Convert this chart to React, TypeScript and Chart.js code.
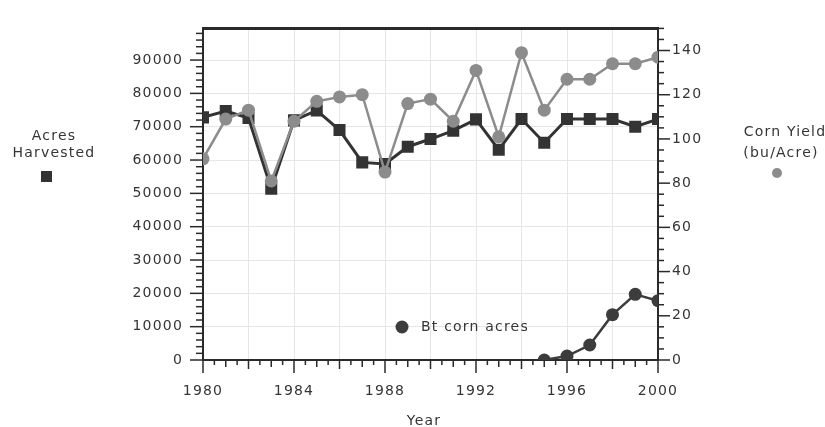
import React, { useEffect, useRef } from "react";
import { Chart, registerables } from "chart.js";

Chart.register(...registerables);

const years = [1980, 1981, 1982, 1983, 1984, 1985, 1986, 1987, 1988, 1989, 1990, 1991, 1992, 1993, 1994, 1995, 1996, 1997, 1998, 1999, 2000];
const acresHarvested = [72800, 74700, 72600, 51400, 71900, 74900, 69000, 59300, 58800, 64000, 66300, 68800, 72200, 63100, 72300, 65200, 72300, 72300, 72300, 70000, 72300];
const cornYield = [91, 109, 113, 81, 108, 117, 119, 120, 85, 116, 118, 108, 131, 101, 139, 113, 127, 127, 134, 134, 137];
const btYears = [1995, 1996, 1997, 1998, 1999, 2000];
const btCornAcres = [0, 1200, 4500, 13600, 19700, 17800];
const xTickValues = [1980, 1982, 1984, 1986, 1988, 1990, 1992, 1994, 1996, 1998, 2000];
const leftTickValues = [0, 10000, 20000, 30000, 40000, 50000, 60000, 70000, 80000, 90000];
const rightTickValues = [0, 20, 40, 60, 80, 100, 120, 140];

const FONT = '"DejaVu Sans", Arial, Helvetica, sans-serif';
const TEXT = "#353535";
const AXIS = "#2a2a2a";
const SPACING = "1.2px";

const decor = {
  id: "decor",
  beforeLayout(chart: any) {
    chart.ctx.letterSpacing = SPACING;
  },
  beforeDraw(chart: any) {
    chart.ctx.letterSpacing = SPACING;
  },
  beforeDatasetsDraw(chart: any) {
    const { ctx, chartArea: a, scales } = chart;
    const x = scales.x, y = scales.y, y1 = scales.y1;
    const line = (x1: number, y1p: number, x2: number, y2: number) => {
      ctx.beginPath();
      ctx.moveTo(x1, y1p);
      ctx.lineTo(x2, y2);
      ctx.stroke();
    };
    ctx.save();
    ctx.strokeStyle = AXIS;
    ctx.lineWidth = 1.5;
    for (let v = 1980; v <= 2000.001; v += 0.5) {
      const px = x.getPixelForValue(v);
      const len = v % 4 === 0 ? 13 : v % 2 === 0 ? 9 : v % 1 === 0 ? 7 : 5;
      line(px, a.bottom, px, a.bottom + len);
    }
    for (let v = 0; v <= y.max; v += 2000) {
      const py = y.getPixelForValue(v);
      const len = v % 10000 === 0 ? 13 : 7;
      line(a.left - len, py, a.left, py);
    }
    for (let v = 0; v <= y1.max; v += 5) {
      const py = y1.getPixelForValue(v);
      const len = v % 20 === 0 ? 12 : 6;
      line(a.right, py, a.right + len, py);
    }
    ctx.lineWidth = 2;
    line(a.left, a.top, a.left, a.bottom + 1);
    line(a.left - 1, a.bottom, a.right + 1, a.bottom);
    line(a.right, a.top, a.right, a.bottom + 1);
    ctx.lineWidth = 3;
    line(a.left - 1, a.top, a.right + 1, a.top);
    ctx.restore();
  },
  afterDraw(chart: any) {
    const { ctx } = chart;
    ctx.save();
    ctx.letterSpacing = SPACING;
    ctx.font = `14px ${FONT}`;
    ctx.fillStyle = TEXT;
    ctx.textAlign = "center";
    ctx.textBaseline = "middle";
    ctx.fillText("Acres", 54, 136);
    ctx.fillText("Harvested", 54, 153);
    ctx.fillText("Corn Yield", 785, 132);
    ctx.fillText("(bu/Acre)", 781, 153);
    ctx.textBaseline = "top";
    ctx.fillText("Year", 424, 414);
    ctx.textAlign = "left";
    ctx.textBaseline = "middle";
    ctx.fillText("Bt corn acres", 421, 327);
    ctx.fillStyle = "#333333";
    ctx.fillRect(41, 171, 11, 11);
    ctx.fillStyle = "#8c8c8c";
    ctx.beginPath();
    ctx.arc(777, 173, 5, 0, Math.PI * 2);
    ctx.fill();
    ctx.fillStyle = "#3c3c3c";
    ctx.beginPath();
    ctx.arc(402, 327, 6.5, 0, Math.PI * 2);
    ctx.fill();
    ctx.restore();
  },
};

export default function App() {
  const ref = useRef<HTMLCanvasElement | null>(null);
  useEffect(() => {
    document.body.style.margin = "0";
    const canvas = ref.current!;
    const chart = new Chart(canvas, {
      type: "line",
      data: {
        datasets: [
          {
            label: "Corn Yield (bu/Acre)",
            data: years.map((yr, i) => ({ x: yr, y: cornYield[i] })),
            yAxisID: "y1",
            borderColor: "#8c8c8c",
            backgroundColor: "#8c8c8c",
            borderWidth: 2.5,
            pointStyle: "circle",
            pointRadius: 6.5,
            pointBorderWidth: 0,
            order: 0,
          },
          {
            label: "Acres Harvested",
            data: years.map((yr, i) => ({ x: yr, y: acresHarvested[i] })),
            yAxisID: "y",
            borderColor: "#333333",
            backgroundColor: "#333333",
            borderWidth: 3,
            pointStyle: "rect",
            pointRadius: 8.5,
            pointBorderWidth: 0,
            order: 1,
          },
          {
            label: "Bt corn acres",
            data: btYears.map((yr, i) => ({ x: yr, y: btCornAcres[i] })),
            yAxisID: "y",
            borderColor: "#3c3c3c",
            backgroundColor: "#3c3c3c",
            borderWidth: 2.5,
            pointStyle: "circle",
            pointRadius: 6.5,
            pointBorderWidth: 0,
            order: 2,
          },
        ],
      },
      options: {
        animation: false,
        responsive: false,
        devicePixelRatio: 1,
        layout: { padding: { left: 118, right: 107, top: 11, bottom: 27 } },
        plugins: { legend: { display: false }, tooltip: { enabled: false } },
        scales: {
          x: {
            type: "linear",
            min: 1980,
            max: 2000,
            afterBuildTicks: (axis: any) => {
              axis.ticks = xTickValues.map((v) => ({ value: v }));
            },
            afterFit: (axis: any) => {
              axis.height = 40;
            },
            ticks: {
              autoSkip: false,
              maxRotation: 0,
              padding: 23,
              color: TEXT,
              font: { family: FONT, size: 14 },
              callback: (v: any) => (Number(v) % 4 === 0 ? String(v) : ""),
            },
            grid: { color: "#e6e6e6", lineWidth: 1, drawTicks: false },
            border: { display: false },
          },
          y: {
            type: "linear",
            position: "left",
            min: 0,
            max: 99500,
            afterBuildTicks: (axis: any) => {
              axis.ticks = leftTickValues.map((v) => ({ value: v }));
            },
            afterFit: (axis: any) => {
              axis.width = 85;
            },
            ticks: {
              padding: 20,
              color: TEXT,
              font: { family: FONT, size: 14 },
              callback: (v: any) => String(v),
            },
            grid: { color: "#e6e6e6", lineWidth: 1, drawTicks: false },
            border: { display: false },
          },
          y1: {
            type: "linear",
            position: "right",
            min: 0,
            max: 150,
            afterBuildTicks: (axis: any) => {
              axis.ticks = rightTickValues.map((v) => ({ value: v }));
            },
            afterFit: (axis: any) => {
              axis.width = 60;
            },
            ticks: {
              padding: 14,
              color: TEXT,
              font: { family: FONT, size: 14 },
              callback: (v: any) => String(v),
            },
            grid: { display: false, drawTicks: false },
            border: { display: false },
          },
        },
      },
      plugins: [decor],
    } as any);
    return () => chart.destroy();
  }, []);
  return (
    <div style={{ width: 825, height: 427 }}>
      <canvas ref={ref} width={825} height={427} style={{ display: "block" }} />
    </div>
  );
}
